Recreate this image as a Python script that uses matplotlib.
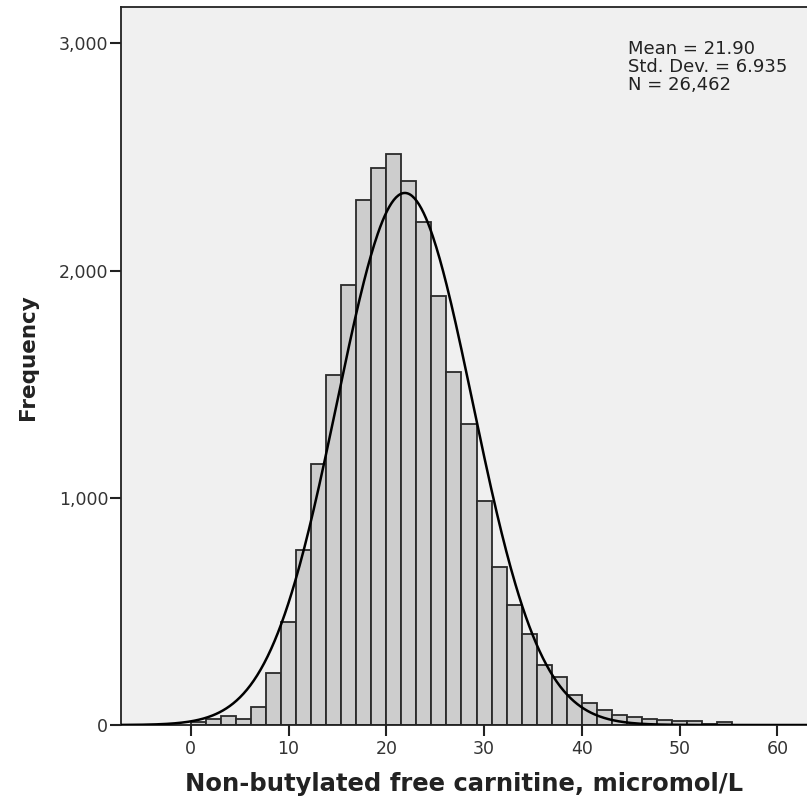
import numpy as np
import matplotlib
matplotlib.use("Agg")
import matplotlib.pyplot as plt

# histogram counts (bins of width 40/26 starting at 0)
bin_start = 0.0
bin_width = 40 / 26
counts = [15, 25, 40, 25, 80, 230, 455, 771, 1150, 1539,
          1935, 2313, 2452, 2515, 2396, 2214, 1890, 1556, 1326, 988,
          695, 529, 401, 264, 210, 130, 98, 66, 45, 34,
          26, 21, 16, 19, 3, 13]

mean = 21.90
std = 6.935
n = 26462

xticks = [0, 10, 20, 30, 40, 50, 60]
yticks = [0, 1000, 2000, 3000]

fig = plt.figure(figsize=(8.07, 8.06), dpi=100)
ax = fig.add_axes([0.1496, 0.1005, 0.8517, 0.8904])
ax.set_facecolor("#f0f0f0")

lefts = bin_start + np.arange(len(counts)) * bin_width
ax.bar(lefts, counts, width=bin_width, align="edge",
       color="#cdcdcd", edgecolor="#2a2a2a", linewidth=1.3, zorder=2)

xlim = (-7.16, 63.14)
xs = np.linspace(xlim[0], xlim[1], 600)
ys = n * bin_width * np.exp(-0.5 * ((xs - mean) / std) ** 2) / (std * np.sqrt(2 * np.pi))
ax.plot(xs, ys, color="black", linewidth=1.8, zorder=3)

ax.set_xlim(*xlim)
ax.set_ylim(0, 3159)
ax.set_xticks(xticks)
ax.set_yticks(yticks)
ax.set_yticklabels([f"{v:,}" for v in yticks])
ax.tick_params(axis="both", direction="out", length=8, width=1.5,
               color="#222222", labelsize=12.5, labelcolor="#333333")
ax.tick_params(axis="y", pad=1)
ax.tick_params(axis="x", pad=3)
for side in ["left", "top", "bottom", "right"]:
    ax.spines[side].set_linewidth(1.3)
    ax.spines[side].set_color("#222222")

ax.set_xlabel("Non-butylated free carnitine, micromol/L", fontsize=17.5,
              fontweight="bold", color="#222222", labelpad=10)
ax.set_ylabel("Frequency", fontsize=15.5, fontweight="bold", color="#222222")
ax.yaxis.set_label_coords(-0.120, 0.512)

ax.text(0.738, 0.955, f"Mean = {mean:.2f}\nStd. Dev. = {std:.3f}\nN = {n:,}",
        transform=ax.transAxes, ha="left", va="top", fontsize=13,
        linespacing=1.0, color="#222222")

fig.savefig("out.png", dpi=100)
